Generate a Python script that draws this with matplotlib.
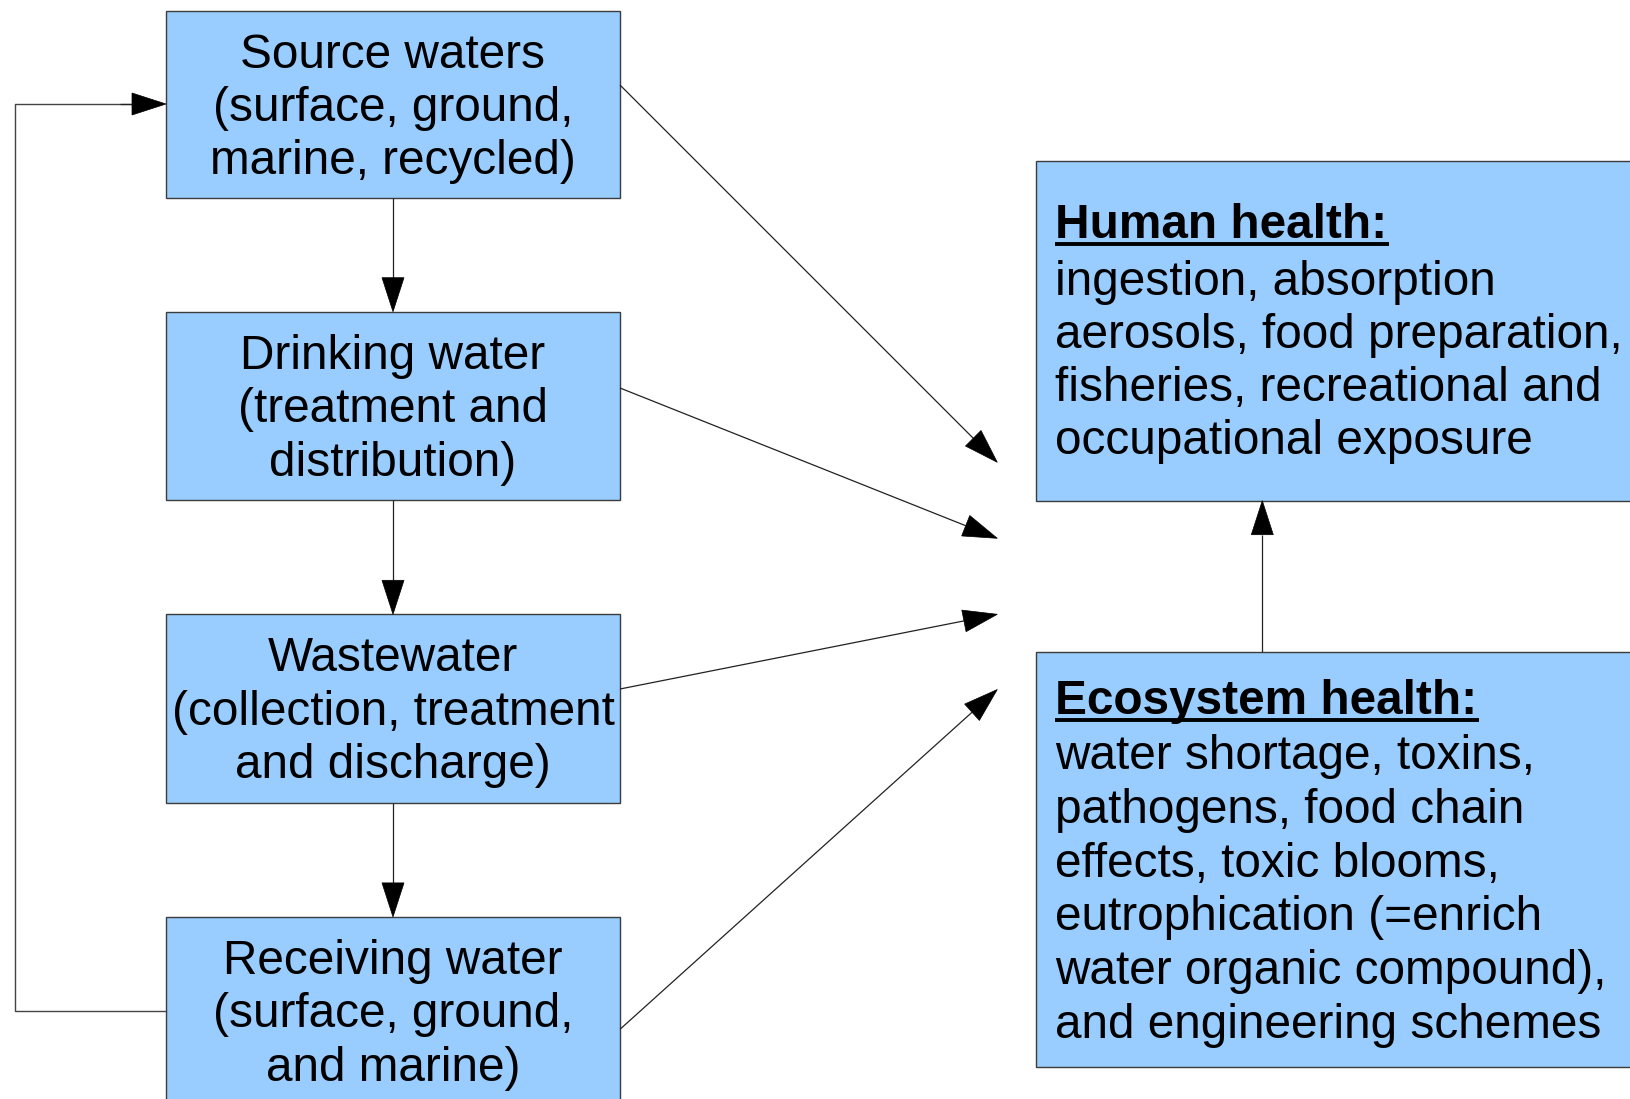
import numpy as np
import matplotlib.pyplot as plt
from matplotlib.patches import Rectangle, Polygon

plt.rcParams['font.family'] = ['Liberation Sans', 'DejaVu Sans']

# Box texts (left column, top to bottom)
stage_labels = [
    ["Source waters", "(surface, ground,", "marine, recycled)"],
    ["Drinking water", "(treatment and", "distribution)"],
    ["Wastewater", "(collection, treatment", "and discharge)"],
    ["Receiving water", "(surface, ground,", "and marine)"],
]

# Impact boxes (right column)
impact_titles = ["Human health:", "Ecosystem health:"]
impact_lines = [
    ["ingestion, absorption", "aerosols, food preparation,",
     "fisheries, recreational and", "occupational exposure"],
    ["water shortage, toxins,", "pathogens, food chain",
     "effects, toxic blooms,", "eutrophication (=enrich",
     "water organic compound),", "and engineering schemes"],
]

W, H = 1630, 1099
FILL = '#99ccff'
EDGE = '#3c3c3c'
FS = 34.4

fig = plt.figure(figsize=(W / 100, H / 100), dpi=100)
ax = fig.add_axes([0, 0, 1, 1])
ax.set_xlim(0, W)
ax.set_ylim(H, 0)
ax.axis('off')

# layout of left boxes (pixel space)
lx0, lx1 = 166, 620
ltops = [10.5, 311.7, 614.3, 916.9]
lbots = [197.7, 500.2, 802.5, 1110]
lcx = (lx0 + lx1) / 2


def arrow(x0, y0, x1, y1, hl=34, hw=11, color='#222222'):
    d = np.array([x1 - x0, y1 - y0], dtype=float)
    L = np.hypot(*d)
    u = d / L
    n = np.array([-u[1], u[0]])
    base = np.array([x1, y1]) - u * hl
    ax.plot([x0, base[0]], [y0, base[1]], color=color, lw=0.9,
            solid_capstyle='butt', zorder=2)
    tri = [(x1, y1), tuple(base + n * hw), tuple(base - n * hw)]
    ax.add_patch(Polygon(tri, closed=True, facecolor='black',
                         edgecolor='black', lw=0.5, zorder=3))


for i, lines in enumerate(stage_labels):
    ax.add_patch(Rectangle((lx0, ltops[i]), lx1 - lx0, lbots[i] - ltops[i],
                           facecolor=FILL, edgecolor=EDGE, lw=1.0, zorder=1))
    b0 = ltops[i] + 57
    for k, s in enumerate(lines):
        ax.text(lcx, b0 + k * 53.5, s, ha='center', va='baseline',
                fontsize=FS, color='black', zorder=4)

# vertical arrows between stages
for i in range(3):
    arrow(lcx, lbots[i], lcx, ltops[i + 1])

# feedback loop from receiving water back to source waters
ax.plot([lx0, 14.5, 14.5, 133], [1011, 1011, 104, 104],
        color='#444444', lw=1.0, zorder=2)
arrow(120, 104, lx0, 104)

# right boxes
rx0 = 1035.7
rboxes = [(161, 500.5), (652.3, 1066.5)]
for (t, b) in rboxes:
    ax.add_patch(Rectangle((rx0, t), 700, b - t, facecolor=FILL,
                           edgecolor=EDGE, lw=1.0, zorder=1))

renderer = fig.canvas.get_renderer()
title_base = [238, 714]
line_base = [295, 769]
line_step = [53.0, 53.8]
tx = 1055
for j in range(2):
    t = ax.text(tx, title_base[j], impact_titles[j], ha='left', va='baseline',
                fontsize=FS, fontweight='bold', color='black', zorder=4)
    bb = t.get_window_extent(renderer)
    ax.plot([bb.x0, bb.x1 + 2], [title_base[j] + 6] * 2, color='black',
            lw=2.8, solid_capstyle='butt', zorder=4)
    for k, s in enumerate(impact_lines[j]):
        ax.text(tx, line_base[j] + k * line_step[j], s, ha='left',
                va='baseline', fontsize=FS, color='black', zorder=4)

# diagonal arrows from each stage to the impacts
starts = [85, 388, 689, 1029.3]
ends = [462.3, 538.3, 614.3, 689.5]
for s, e in zip(starts, ends):
    arrow(lx1, s, 997.3, e)

# ecosystem -> human health
arrow(1262.3, 652.3, 1262.3, 500.7)

fig.savefig('out.png', dpi=100)
